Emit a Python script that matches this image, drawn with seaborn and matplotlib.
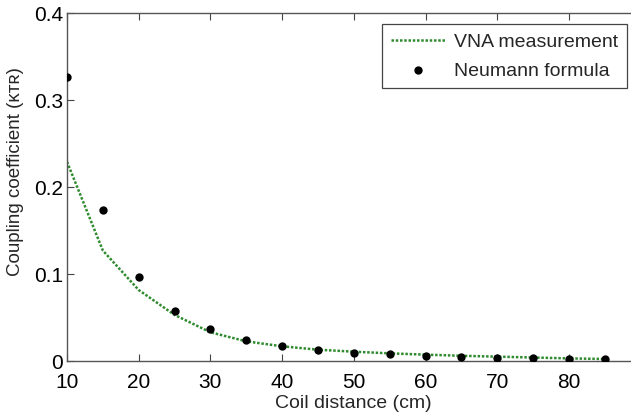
import numpy as np
import pandas as pd
import matplotlib
matplotlib.use("Agg")
import matplotlib.pyplot as plt
import seaborn as sns

# coil distance (cm)
distance = [10, 15, 20, 25, 30, 35, 40, 45, 50, 55, 60, 65, 70, 75, 80, 85]
# VNA measurement (dotted green line)
vna = [0.229, 0.127, 0.0816, 0.053, 0.033, 0.0226, 0.0169, 0.013, 0.0107,
       0.0088, 0.0073, 0.006, 0.005, 0.004, 0.003, 0.0023]
# Neumann formula (black dots)
neumann = [0.326, 0.1736, 0.0966, 0.0575, 0.0364, 0.0245, 0.0172, 0.0126, 0.0092,
           0.0077, 0.0061, 0.005, 0.0038, 0.003, 0.0027, 0.0023]

df = pd.DataFrame({"distance": distance, "vna": vna, "neumann": neumann})

sns.set_style("ticks")
plt.rcParams['font.family'] = ['Liberation Sans', 'DejaVu Sans']

fig = plt.figure(figsize=(6.31, 4.14), dpi=100)
ax = fig.add_axes([67 / 631, 52 / 414, 1 - 67 / 631, 348 / 414])

sns.lineplot(data=df, x="distance", y="vna", ax=ax, color="#2e8b2e",
             linestyle=(0, (1, 0.7)), linewidth=1.8, label="VNA measurement")
sns.scatterplot(data=df, x="distance", y="neumann", ax=ax, color="black",
                s=36, edgecolor="black", linewidth=0, label="Neumann formula", zorder=3)

ax.set_xlim(10, 10 + (631 - 67) / 71.7 * 10)
ax.set_ylim(0, 0.4)
ax.set_xticks([10, 20, 30, 40, 50, 60, 70, 80])
ax.set_yticks([0, 0.1, 0.2, 0.3, 0.4])
ax.set_yticklabels(["0", "0.1", "0.2", "0.3", "0.4"])

ax.tick_params(direction="in", length=5, width=0.8, labelsize=15,
               top=True, colors="#444444", labelcolor="black")
ax.tick_params(axis="x", pad=8)
ax.tick_params(axis="y", pad=3)
for side in ["left", "bottom", "top"]:
    ax.spines[side].set_color("#555555")
    ax.spines[side].set_linewidth(1.0)
ax.spines["right"].set_visible(False)

ax.set_xlabel("Coil distance (cm)", fontsize=14)
ax.xaxis.label.set_va("center")
ax.xaxis.set_label_coords(0.507, -0.12)
ax.set_ylabel("Coupling coefficient (ᴋᴛʀ)", fontsize=13.5)
ax.yaxis.label.set_va("center")
ax.yaxis.set_label_coords(-0.092, 0.547)

leg = ax.legend(loc="upper right", fontsize=14, frameon=True, fancybox=False,
                edgecolor="#444444", borderpad=0.45, handlelength=2.8,
                handletextpad=0.45, labelspacing=0.55, borderaxespad=0,
                bbox_to_anchor=(0.993, 0.968), framealpha=1)
leg.get_frame().set_linewidth(0.9)

fig.savefig("out.png", dpi=100)
